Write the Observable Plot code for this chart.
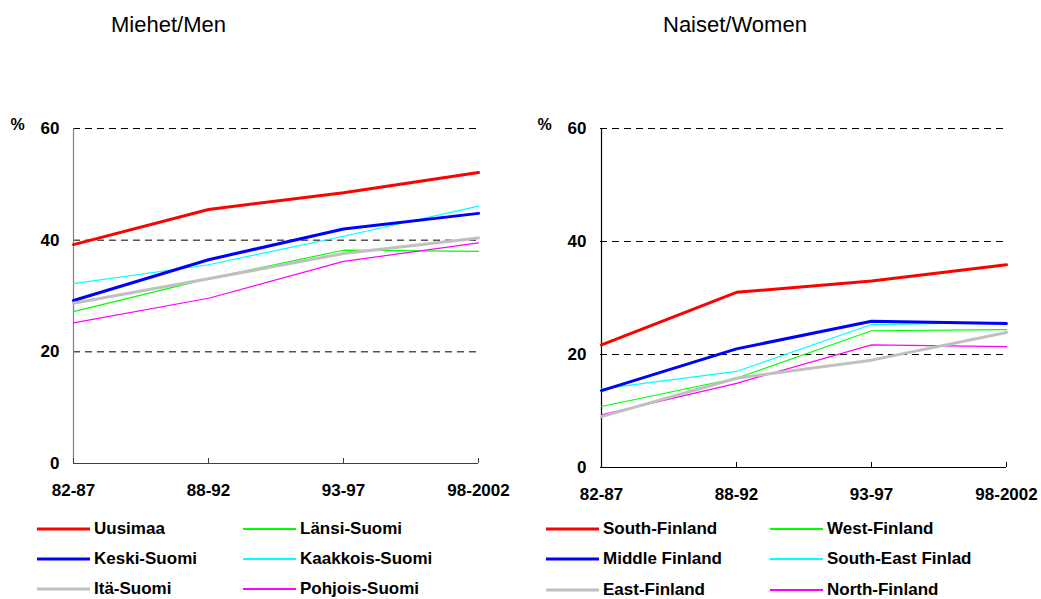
<!DOCTYPE html>
<html>
<head>
<meta charset="utf-8">
<script src="https://cdn.jsdelivr.net/npm/d3@7"></script>
<script src="https://cdn.jsdelivr.net/npm/@observablehq/plot@0.6"></script>
<style>
  body { margin: 0; background: #fff; font-family: Arial, "Liberation Sans", sans-serif; }
  #wrap { position: relative; width: 1041px; height: 599px; overflow: hidden; background: #fff; }
  .title { position: absolute; top: 14px; font-size: 22px; line-height: 22px; color: #000; white-space: nowrap; }
  .chart { position: absolute; top: 0; }
  .leg { position: absolute; height: 20px; display: flex; align-items: center; font-size: 17px; font-weight: bold; color: #000; white-space: nowrap; }
  .leg svg { display: block; margin-right: 4px; }
</style>
</head>
<body>
<div id="wrap"></div>
<script>
// ---- data ----
const periods = ["82-87", "88-92", "93-97", "98-2002"];
const yTicks = [0, 20, 40, 60];
const gridTicks = [20, 40, 60];

const regionsFi = ["Uusimaa", "Länsi-Suomi", "Keski-Suomi", "Kaakkois-Suomi", "Itä-Suomi", "Pohjois-Suomi"];
const regionsEn = ["South-Finland", "West-Finland", "Middle Finland", "South-East Finlad", "East-Finland", "North-Finland"];
const regionColors = ["#ff0000", "#00ff00", "#0000ff", "#00ffff", "#c0c0c0", "#ff00ff"];
const regionThick = [true, false, true, false, true, false];

// Men (%)
const menUusimaa = [39.2, 45.5, 48.5, 52.1];
const menLansi = [27.2, 33.1, 38.2, 38.0];
const menKeski = [29.2, 36.5, 42.0, 44.8];
const menKaakkois = [32.2, 35.6, 40.7, 46.1];
const menIta = [28.7, 33.1, 37.6, 40.4];
const menPohjois = [25.2, 29.6, 36.2, 39.5];

// Women (%)
const womenSouth = [21.7, 31.0, 33.0, 35.9];
const womenWest = [10.8, 15.8, 24.2, 24.4];
const womenMiddle = [13.6, 21.0, 25.9, 25.5];
const womenSouthEast = [13.9, 17.0, 25.3, 25.7];
const womenEast = [9.0, 15.8, 19.0, 23.9];
const womenNorth = [9.3, 14.9, 21.7, 21.4];

const menSeries = [menUusimaa, menLansi, menKeski, menKaakkois, menIta, menPohjois];
const womenSeries = [womenSouth, womenWest, womenMiddle, womenSouthEast, womenEast, womenNorth];

const FONT = 'Arial, "Liberation Sans", sans-serif';
const wrap = document.getElementById("wrap");

function makeChart(series, names, o) {
  const rows = [];
  names.forEach((name, i) => series[i].forEach((v, j) => rows.push({period: periods[j], region: name, value: v, thick: regionThick[i]})));
  return Plot.plot({
    width: o.width,
    height: 510,
    marginLeft: o.ml,
    marginRight: o.mr,
    marginTop: 128,
    marginBottom: o.mb,
    x: {type: "point", domain: periods, padding: 0},
    y: {domain: [0, 60]},
    color: {domain: names, range: regionColors},
    style: {fontFamily: FONT, fontSize: "17px", fontWeight: "bold", color: "#000", background: "transparent", overflow: "visible"},
    marks: [
      Plot.ruleY(gridTicks, {stroke: "#000", strokeDasharray: "7,5", strokeWidth: 1}),
      Plot.ruleX([periods[0]], {stroke: o.vColor, strokeWidth: 1.2}),
      Plot.ruleY([0], {stroke: o.hColor, strokeWidth: 1.2}),
      Plot.ruleX(periods, {x: d => d, y1: () => 0, y2: () => 0, insetBottom: 5, stroke: o.hColor}),
      Plot.axisY({ticks: yTicks, tickSize: 0, tickPadding: 14, label: null}),
      Plot.axisX({tickSize: 0, tickPadding: 20, label: null}),
      Plot.text(["%"], {frameAnchor: "top-left", dx: -63, dy: 1, textAnchor: "start", lineAnchor: "bottom", fontSize: 16}),
      Plot.line(rows.filter(d => !d.thick), {x: "period", y: "value", z: "region", stroke: "region", strokeWidth: 1.2}),
      Plot.line(rows.filter(d => d.thick), {x: "period", y: "value", z: "region", stroke: "region", strokeWidth: 3})
    ]
  });
}

function place(el, left) {
  const d = document.createElement("div");
  d.className = "chart";
  d.style.left = left + "px";
  d.appendChild(el);
  wrap.appendChild(d);
}

place(makeChart(menSeries, regionsFi, {width: 520, ml: 73, mr: 42, mb: 47, vColor: "#808080", hColor: "#404040"}), 0);
place(makeChart(womenSeries, regionsEn, {width: 521, ml: 80, mr: 35, mb: 43, vColor: "#000", hColor: "#000"}), 520);

function title(text, left) {
  const t = document.createElement("div");
  t.className = "title";
  t.style.left = left + "px";
  t.textContent = text;
  wrap.appendChild(t);
}
title("Miehet/Men", 111);
title("Naiset/Women", 663);

function legend(names, colX, rowY) {
  names.forEach((name, i) => {
    const col = i % 2, row = Math.floor(i / 2);
    const item = document.createElement("div");
    item.className = "leg";
    item.style.left = colX[col] + "px";
    item.style.top = (rowY[row] - 10) + "px";
    const ns = "http://www.w3.org/2000/svg";
    const svg = document.createElementNS(ns, "svg");
    svg.setAttribute("width", 53);
    svg.setAttribute("height", 6);
    const ln = document.createElementNS(ns, "line");
    ln.setAttribute("x1", 0); ln.setAttribute("x2", 53);
    ln.setAttribute("y1", 3); ln.setAttribute("y2", 3);
    ln.setAttribute("stroke", regionColors[i]);
    ln.setAttribute("stroke-width", regionThick[i] ? 3 : 2);
    svg.appendChild(ln);
    item.appendChild(svg);
    const sp = document.createElement("span");
    sp.textContent = name;
    item.appendChild(sp);
    wrap.appendChild(item);
  });
}
legend(regionsFi, [37, 243], [529, 559, 589]);
legend(regionsEn, [546, 770], [529, 559, 590]);
</script>
</body>
</html>
